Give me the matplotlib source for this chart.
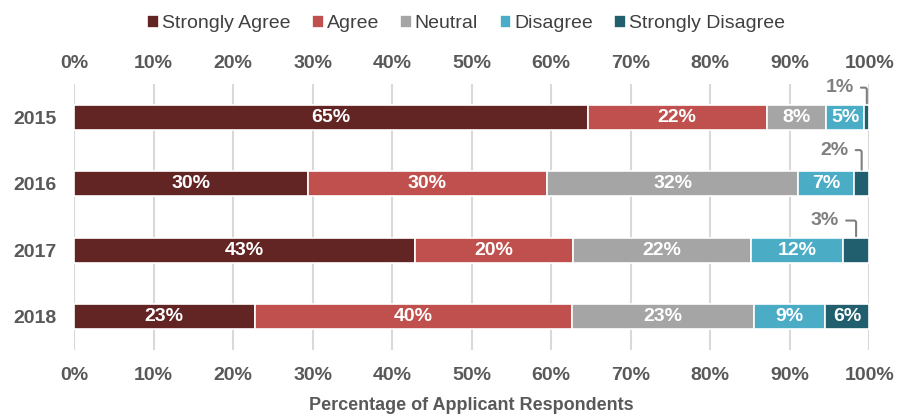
import matplotlib
matplotlib.use("Agg")
import matplotlib.pyplot as plt
import numpy as np

plt.rcParams['font.family'] = ['Liberation Sans', 'DejaVu Sans']

years = ['2015', '2016', '2017', '2018']
categories = ['Strongly Agree', 'Agree', 'Neutral', 'Disagree', 'Strongly Disagree']
strongly_agree = [64.6, 29.4, 42.9, 22.7]
agree = [22.5, 30.1, 19.9, 39.9]
neutral = [7.5, 31.6, 22.3, 22.9]
disagree = [4.8, 7.0, 11.6, 9.0]
strongly_disagree = [0.6, 1.9, 3.3, 5.5]

lbl_sa = ['65%', '30%', '43%', '23%']
lbl_ag = ['22%', '30%', '20%', '40%']
lbl_ne = ['8%', '32%', '22%', '23%']
lbl_di = ['5%', '7%', '12%', '9%']
lbl_sd = ['1%', '2%', '3%', '6%']

colors = ['#632523', '#C0504D', '#A5A5A5', '#4BACC6', '#215F6E']
xticks = [0, 10, 20, 30, 40, 50, 60, 70, 80, 90, 100]
xtick_labels = [f'{t}%' for t in xticks]

series = [strongly_agree, agree, neutral, disagree, strongly_disagree]
labels = [lbl_sa, lbl_ag, lbl_ne, lbl_di, lbl_sd]

FS = 14
fig = plt.figure(figsize=(9.14, 4.16), dpi=100)
ax = fig.add_axes([0.081, 0.159, 0.870, 0.639])

y = np.arange(len(years))
bar_h = 0.38
left = np.zeros(len(years))
callout_offsets = {0: (-27, 17), 1: (-27, 21), 2: (-31, 17)}
for vals, col, name, lbls in zip(series, colors, categories, labels):
    vals = np.array(vals)
    ax.barh(y, vals, left=left, height=bar_h, color=col, edgecolor='white',
            linewidth=1.2, label=name, zorder=3)
    for i, (v, l0, t) in enumerate(zip(vals, left, lbls)):
        cx = l0 + v / 2
        if name == 'Strongly Disagree' and v < 4:
            ax.annotate(t, xy=(cx, y[i] - bar_h / 2), xycoords='data',
                        xytext=callout_offsets[i], textcoords='offset pixels',
                        ha='center', va='center', fontsize=FS, fontweight='bold',
                        color='#7F7F7F',
                        arrowprops=dict(arrowstyle='-', color='#7F7F7F', lw=1.5,
                                        relpos=(1.0, 0.5), shrinkA=3, shrinkB=1,
                                        connectionstyle='angle,angleA=0,angleB=90,rad=2'),
                        zorder=4)
        else:
            ax.text(cx, y[i], t, ha='center', va='center', color='white',
                    fontsize=FS, fontweight='bold', zorder=4)
    left = left + vals

ax.set_xlim(0, 100)
ax.set_ylim(3.5, -0.5)
ax.set_yticks(y)
ax.set_yticklabels(years)
ax.set_xticks(xticks)
ax.set_xticklabels(xtick_labels)
ax.tick_params(axis='x', which='both', top=False, bottom=False, labeltop=False,
               labelbottom=True, labelsize=FS, labelcolor='#595959', pad=9)
ax.tick_params(axis='y', left=False, labelsize=FS, labelcolor='#595959', pad=9)
for lab in ax.get_xticklabels() + ax.get_yticklabels():
    lab.set_fontweight('bold')

sec = ax.secondary_xaxis('top')
sec.set_xticks(xticks)
sec.set_xticklabels(xtick_labels)
sec.tick_params(axis='x', top=False, labelsize=FS, labelcolor='#595959', pad=5)
for lab in sec.get_xticklabels():
    lab.set_fontweight('bold')
for s in sec.spines.values():
    s.set_visible(False)

for s in ax.spines.values():
    s.set_visible(False)
ax.grid(axis='x', color='#D9D9D9', linewidth=1.5, zorder=0)
ax.set_axisbelow(True)
ax.set_xlabel('Percentage of Applicant Respondents', fontsize=13, fontweight='bold',
              color='#595959', labelpad=9)

fig.legend(loc='upper center', bbox_to_anchor=(0.51, 1.005), ncol=5, frameon=False,
           fontsize=FS, handlelength=0.6, handleheight=0.6, handletextpad=0.15,
           columnspacing=1.1, labelcolor='#404040')

fig.savefig('out.png', dpi=100)
